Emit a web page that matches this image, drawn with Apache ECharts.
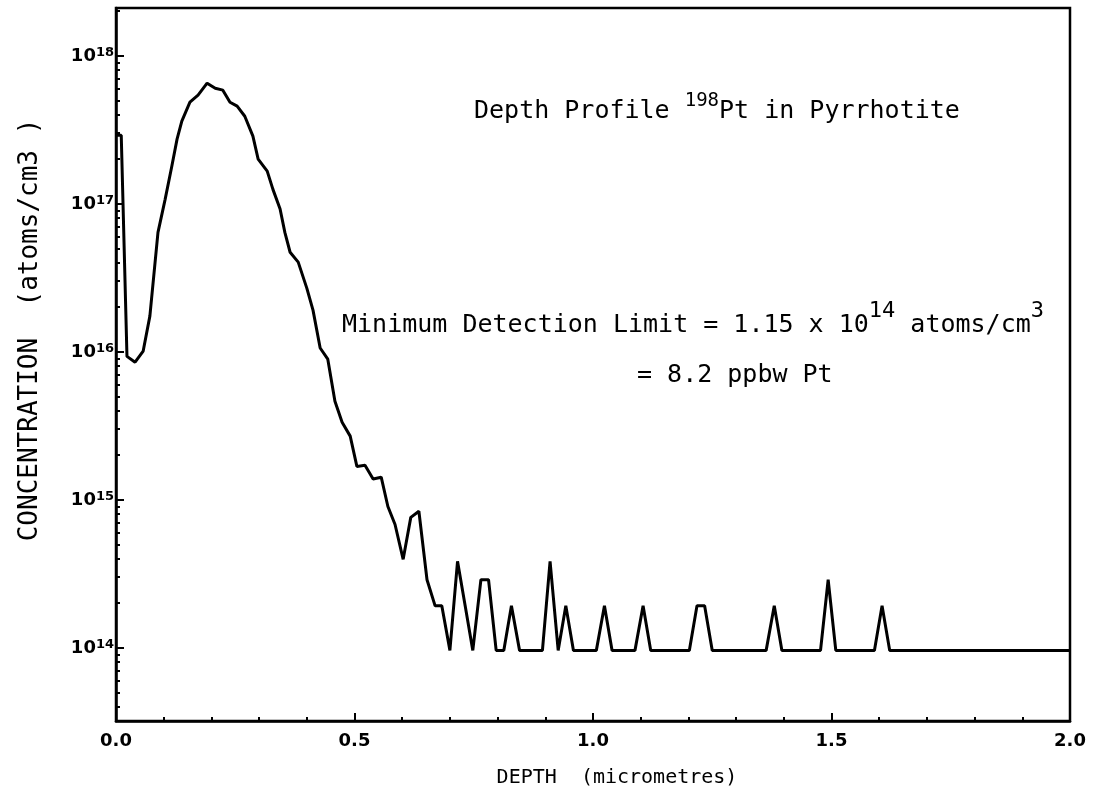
<!DOCTYPE html>
<html>
<head>
<meta charset="utf-8">
<title>Depth Profile 198Pt in Pyrrhotite</title>
<script src="https://cdn.jsdelivr.net/npm/echarts@6/dist/echarts.min.js"></script>
<style>
  html, body { margin: 0; padding: 0; background: #fff; }
  #chart { width: 1103px; height: 793px; }
</style>
</head>
<body>
<div id="chart"></div>
<script>
// depth (micrometres) of each vertex of the trace
var depth = [
  0.000, 0.011, 0.023, 0.040, 0.057, 0.071, 0.088, 0.103, 0.117, 0.128,
  0.138, 0.155, 0.172, 0.191, 0.208, 0.224, 0.239, 0.254, 0.270, 0.287,
  0.298, 0.317, 0.329, 0.344, 0.354, 0.365, 0.382, 0.400, 0.413, 0.428,
  0.444, 0.459, 0.474, 0.491, 0.505, 0.522, 0.539, 0.556, 0.570, 0.585,
  0.602, 0.618, 0.635, 0.652, 0.669, 0.683, 0.700, 0.716, 0.732, 0.748,
  0.765, 0.781, 0.797, 0.813, 0.829, 0.846, 0.894, 0.910, 0.927, 0.943,
  0.959, 1.007, 1.024, 1.040, 1.088, 1.105, 1.121, 1.202, 1.218, 1.234,
  1.250, 1.363, 1.380, 1.396, 1.477, 1.493, 1.509, 1.590, 1.606, 1.622,
  2.000
];
// concentration (atoms/cm3)
var conc = [
  2.9e17, 2.9e17, 9.3e15, 8.5e15, 1.01e16, 1.74e16, 6.4e16, 1.07e17, 1.79e17, 2.73e17,
  3.61e17, 4.85e17, 5.41e17, 6.52e17, 6.03e17, 5.85e17, 4.85e17, 4.56e17, 3.90e17, 2.86e17,
  2.0e17, 1.66e17, 1.25e17, 9.2e16, 6.4e16, 4.7e16, 4.03e16, 2.69e16, 1.91e16, 1.06e16,
  8.9e15, 4.63e15, 3.34e15, 2.69e15, 1.68e15, 1.71e15, 1.38e15, 1.42e15, 9.0e14, 6.8e14,
  3.96e14, 7.6e14, 8.36e14, 2.88e14, 1.92e14, 1.92e14, 9.6e13, 3.84e14, 1.92e14, 9.6e13,
  2.88e14, 2.88e14, 9.6e13, 9.6e13, 1.92e14, 9.6e13, 9.6e13, 3.84e14, 9.6e13, 1.92e14,
  9.6e13, 9.6e13, 1.92e14, 9.6e13, 9.6e13, 1.92e14, 9.6e13, 9.6e13, 1.92e14, 1.92e14,
  9.6e13, 9.6e13, 1.92e14, 9.6e13, 9.6e13, 2.88e14, 9.6e13, 9.6e13, 1.92e14, 9.6e13,
  9.6e13
];
var yMajor = [1e14, 1e15, 1e16, 1e17, 1e18];
var yMinorMult = [2, 3, 4, 5, 6, 7, 8, 9];
var yMin = 3.2e13, yMax = 2.1e18;

// minor log ticks between the decades
var yMinor = [];
[13, 14, 15, 16, 17, 18].forEach(function (e) {
  yMinorMult.forEach(function (m) {
    var v = m * Math.pow(10, e);
    if (v >= yMin && v <= yMax) yMinor.push(v);
  });
});

var pts = depth.map(function (d, i) { return [d, conc[i]]; });

var FONT = 'DejaVu Sans Mono';
var TICKFONT = 'DejaVu Sans';
var myChart = echarts.init(document.getElementById('chart'));
myChart.setOption({
  animation: false,
  backgroundColor: '#fff',
  grid: {
    left: 116, right: 33, top: 8, bottom: 72,
    show: true, borderColor: '#000', borderWidth: 2.5
  },
  xAxis: {
    type: 'value', min: 0, max: 2, interval: 0.5,
    axisLine: { lineStyle: { color: '#000', width: 2.5 } },
    axisTick: { inside: true, length: 8, lineStyle: { color: '#000', width: 2 } },
    minorTick: { show: true, splitNumber: 5, length: 4, lineStyle: { color: '#000', width: 2 } },
    splitLine: { show: false },
    axisLabel: {
      margin: 11, color: '#000', fontFamily: TICKFONT, fontSize: 18, fontWeight: 'bold',
      formatter: function (v) { return v.toFixed(1); }
    },
    name: 'DEPTH  (micrometres)',
    nameLocation: 'middle', nameGap: 47,
    nameTextStyle: { color: '#000', fontFamily: FONT, fontSize: 20, padding: [0, 0, 0, 48] }
  },
  yAxis: [{
    type: 'log', logBase: 10, min: yMin, max: yMax,
    axisLine: { show: true, lineStyle: { color: '#000', width: 2.5 } },
    axisTick: { show: true, inside: true, length: 8, lineStyle: { color: '#000', width: 2 }, customValues: yMajor },
    splitLine: { show: false },
    axisLabel: {
      customValues: yMajor, margin: 2,
      formatter: function (v) { return '{b|10}{s|' + Math.round(Math.log10(v)) + '}'; },
      rich: {
        b: { fontFamily: TICKFONT, fontSize: 18, fontWeight: 'bold', color: '#000', lineHeight: 20, verticalAlign: 'bottom' },
        s: { fontFamily: TICKFONT, fontSize: 13, fontWeight: 'bold', color: '#000', lineHeight: 20, verticalAlign: 'top' }
      }
    }
  }, {
    type: 'log', logBase: 10, min: yMin, max: yMax, position: 'left',
    axisLine: { show: false },
    axisTick: { show: true, inside: true, length: 4, lineStyle: { color: '#000', width: 2 }, customValues: yMinor },
    axisLabel: { show: false },
    splitLine: { show: false }
  }],
  graphic: [{
    type: 'text', x: 474, y: 92,
    style: {
      text: '{t|Depth Profile }{s|198}{t|Pt in Pyrrhotite}',
      rich: {
        t: { fontFamily: FONT, fontSize: 25, fill: '#000', lineHeight: 32, verticalAlign: 'bottom' },
        s: { fontFamily: FONT, fontSize: 19, fill: '#000', lineHeight: 32, verticalAlign: 'top' }
      }
    }
  }, {
    type: 'text', x: 342, y: 300,
    style: {
      text: '{t|Minimum Detection Limit = 1.15 x 10}{s|14}{t| atoms/cm}{s|3}',
      rich: {
        t: { fontFamily: FONT, fontSize: 25, fill: '#000', lineHeight: 38, verticalAlign: 'bottom' },
        s: { fontFamily: FONT, fontSize: 22, fill: '#000', lineHeight: 38, verticalAlign: 'top' }
      }
    }
  }, {
    type: 'text', x: 637, y: 363,
    style: { text: '= 8.2 ppbw Pt', font: '25px "DejaVu Sans Mono"', fill: '#000' }
  }, {
    type: 'text', x: 30, y: 330, rotation: Math.PI / 2,
    style: {
      text: 'CONCENTRATION  (atoms/cm3 )', font: '26px "DejaVu Sans Mono"', fill: '#000',
      align: 'center', verticalAlign: 'middle'
    }
  }],
  series: [{
    type: 'line',
    xAxisIndex: 0, yAxisIndex: 0,
    data: pts,
    showSymbol: false,
    lineStyle: { color: '#000', width: 3 },
    z: 3
  }]
});
</script>
</body>
</html>
